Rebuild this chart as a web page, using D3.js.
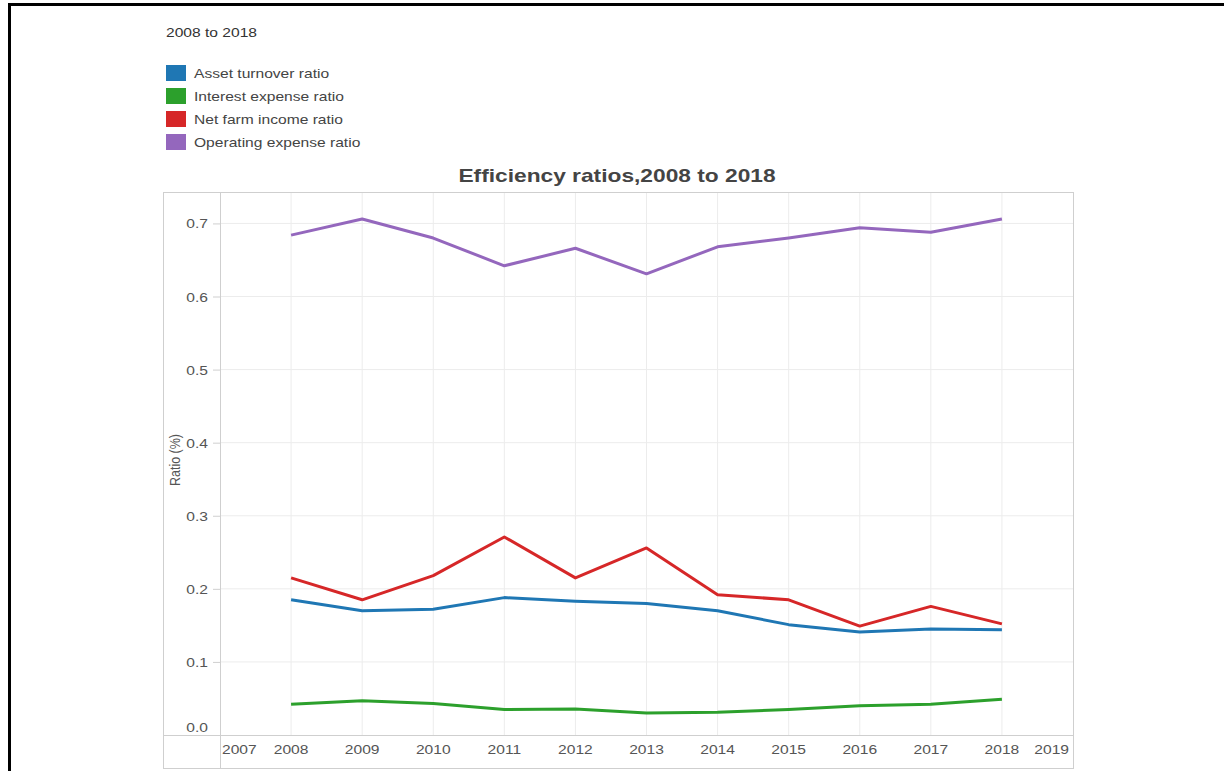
<!DOCTYPE html>
<html><head><meta charset="utf-8">
<script src="https://cdn.jsdelivr.net/npm/d3@7/dist/d3.min.js"></script>
<style>body{margin:0;background:#fff}svg{display:block;font-family:"Liberation Sans",Arial,sans-serif}</style>
</head><body><svg id="c" width="1224" height="771"></svg>
<script>
const years = [2008,2009,2010,2011,2012,2013,2014,2015,2016,2017,2018];
const xTicks = [2007,2008,2009,2010,2011,2012,2013,2014,2015,2016,2017,2018,2019];
const yTicks = [0,0.1,0.2,0.3,0.4,0.5,0.6,0.7];
const seriesNames = ["Asset turnover ratio","Interest expense ratio","Net farm income ratio","Operating expense ratio"];
const seriesColors = ["#1f77b4","#2ca02c","#d62728","#9467bd"];
const assetTurnover = [0.185,0.170,0.172,0.188,0.183,0.180,0.170,0.151,0.141,0.145,0.144];
const interestExpense = [0.042,0.047,0.043,0.035,0.0355,0.030,0.031,0.035,0.040,0.042,0.049];
const netFarmIncome = [0.215,0.185,0.218,0.271,0.215,0.256,0.192,0.185,0.149,0.176,0.152];
const operatingExpense = [0.684,0.706,0.680,0.642,0.666,0.631,0.668,0.680,0.694,0.688,0.706];
const seriesValues = [assetTurnover, interestExpense, netFarmIncome, operatingExpense];

const svg = d3.select("#c");
const SX = 1.2;
function txt(parent, x0, y0, str, opts){
  const o = Object.assign({size:13, fill:"#444", anchor:"start", weight:"normal", sx:SX}, opts||{});
  return parent.append("text").attr("transform",`translate(${x0},${y0}) scale(${o.sx},1)`)
    .attr("font-size",o.size).attr("fill",o.fill).attr("text-anchor",o.anchor).attr("font-weight",o.weight).text(str);
}
// outer black frame
svg.append("path").attr("d","M9.5,771V4.5H1224").attr("fill","none").attr("stroke","#000").attr("stroke-width",3);

const L=220,R=1073,T=192,B=735, panelL=163, panelB=768;
const x = d3.scaleLinear().domain([2007,2019]).range([L,R]);
const y = d3.scaleLinear().domain([0,0.743]).range([B,T]);

// subtitle
txt(svg,166,37,"2008 to 2018",{fill:"#333"});
// legend
seriesNames.forEach((n,i)=>{
  const yy = 65 + i*23;
  svg.append("rect").attr("x",166).attr("y",yy).attr("width",20).attr("height",16).attr("fill",seriesColors[i]);
  txt(svg,194,yy+13,n);
});
// title
txt(svg,617,182,"Efficiency ratios,2008 to 2018",{size:17.5,weight:"bold",anchor:"middle",sx:1.3});

// grid
const g = svg.append("g");
g.selectAll(".vg").data(years).join("line").attr("x1",d=>x(d)).attr("x2",d=>x(d)).attr("y1",T).attr("y2",B).attr("stroke","#ececec").attr("stroke-width",1);
g.selectAll(".hg").data(yTicks.filter(d=>d>0)).join("line").attr("x1",L).attr("x2",R).attr("y1",d=>y(d)).attr("y2",d=>y(d)).attr("stroke","#ececec").attr("stroke-width",1);

// panel borders
const bc="#cfcfcf";
g.append("rect").attr("x",panelL+0.5).attr("y",T+0.5).attr("width",R-panelL).attr("height",panelB-T).attr("fill","none").attr("stroke",bc);
g.append("line").attr("x1",L+0.5).attr("x2",L+0.5).attr("y1",T).attr("y2",panelB).attr("stroke",bc);
g.append("line").attr("x1",panelL).attr("x2",R).attr("y1",B+0.5).attr("y2",B+0.5).attr("stroke",bc);

// y axis ticks and labels
const ya = svg.append("g");
ya.selectAll("line").data(yTicks).join("line").attr("x1",L-7).attr("x2",L).attr("y1",d=>y(d)+0.5).attr("y2",d=>y(d)+0.5).attr("stroke",bc);
yTicks.forEach(d=>{
  txt(ya,L-12,d===0?y(d)-3:y(d)+5,d3.format(".1f")(d),{fill:"#555",anchor:"end"});
});
svg.append("text").attr("transform",`translate(180,460) rotate(-90) scale(1,${SX})`).attr("text-anchor","middle").attr("font-size",12.5).attr("fill","#555").text("Ratio (%)");

// x axis labels
const xa = svg.append("g");
xTicks.forEach(d=>{
  txt(xa, d===2007?x(d)+2:d===2019?x(d)-4:x(d), 754, d, {fill:"#555", anchor:d===2007?"start":d===2019?"end":"middle"});
});

// lines
const line = d3.line().x((d,i)=>x(years[i])).y(d=>y(d));
seriesValues.forEach((vals,i)=>{
  svg.append("path").attr("d",line(vals)).attr("fill","none").attr("stroke",seriesColors[i]).attr("stroke-width",3).attr("stroke-linejoin","round");
});
</script></body></html>
